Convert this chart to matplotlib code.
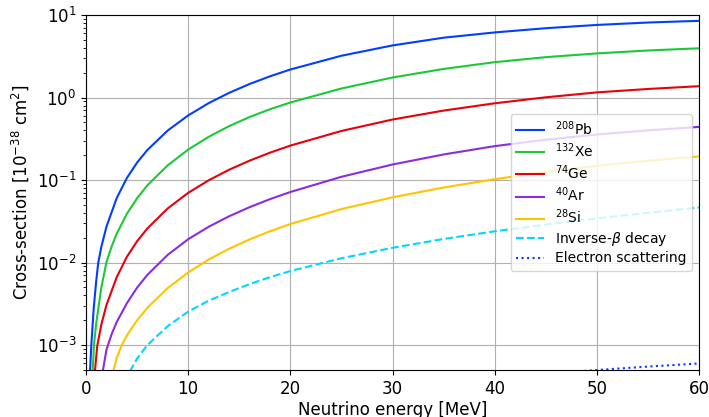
import matplotlib
matplotlib.use("Agg")
from matplotlib import pyplot as plt

# values (cross-section in 1e-38 cm^2)
pb_e = [0.36, 0.52, 0.75, 1, 1.2, 1.5, 2, 3, 4, 5, 6, 8, 10, 12, 14, 16, 18, 20, 25, 30, 35, 40, 45, 50, 55, 60]
pb_s = [4e-4, 1e-3, 2.74e-3, 6.0e-3, 0.01, 0.0155, 0.0272, 0.0603, 0.106, 0.163, 0.231, 0.399, 0.607,
        0.855, 1.139, 1.457, 1.807, 2.186, 3.21, 4.28, 5.31, 6.15, 6.92, 7.58, 8.11, 8.50]

xe_e = [0.62, 0.78, 1.0, 1.5, 1.99, 2.5, 3, 4, 5, 6, 8, 10, 12, 14, 16, 18, 20, 25, 30, 35, 40, 45, 50, 55, 60]
xe_s = [4e-4, 1e-3, 1.84e-3, 4.99e-3, 0.01, 0.0156, 0.0223, 0.039, 0.0603, 0.0862, 0.151, 0.234, 0.334,
        0.450, 0.580, 0.721, 0.871, 1.287, 1.749, 2.221, 2.684, 3.084, 3.427, 3.716, 3.95]

ge_e = [0.85, 1.1, 1.5, 2, 3, 4, 5, 6, 8, 10, 12, 14, 16, 18, 20, 25, 30, 35, 40, 45, 50, 55, 60]
ge_s = [4.5e-4, 9.8e-4, 1.77e-3, 3.06e-3, 6.64e-3, 0.01175, 0.01815, 0.0259, 0.0454, 0.07, 0.0993, 0.1333,
        0.1718, 0.2147, 0.2617, 0.3937, 0.5416, 0.6953, 0.8517, 1.0067, 1.1545, 1.27, 1.373]

ar_e = [1.6, 2, 2.5, 3, 4, 5, 6, 8, 10, 12, 14, 16, 18, 20, 25, 30, 35, 40, 45, 50, 55, 60]
ar_s = [4.5e-4, 8.8e-4, 1.35e-3, 1.9e-3, 3.22e-3, 4.97e-3, 7.09e-3, 0.01243, 0.0192, 0.02715, 0.0364, 0.0469,
        0.0587, 0.0717, 0.1096, 0.1544, 0.2044, 0.2579, 0.3085, 0.3567, 0.4007, 0.4409]

si_e = [2.6, 3, 3.5, 4, 5, 6, 8, 10, 12, 14, 16, 18, 20, 25, 30, 35, 40, 45, 50, 55, 60]
si_s = [4.5e-4, 7e-4, 1.0e-3, 1.315e-3, 2.0e-3, 2.83e-3, 4.92e-3, 7.6e-3, 0.01087, 0.01469, 0.01906, 0.02395,
        0.02935, 0.04455, 0.06186, 0.08128, 0.10257, 0.1253, 0.1486, 0.1714, 0.1933]

ibd_e = [4.3, 5, 6, 8, 10, 12, 14, 16, 18, 20, 25, 30, 35, 40, 45, 50, 55, 60]
ibd_s = [4.8e-4, 6.9e-4, 1e-3, 1.7e-3, 2.55e-3, 3.45e-3, 4.4e-3, 5.49e-3, 6.66e-3, 7.9e-3, 0.01129, 0.01511,
         0.01934, 0.02395, 0.0289, 0.03428, 0.04016, 0.0466]

es_e = [45, 50, 55, 60]
es_s = [4.5e-4, 5.0e-4, 5.5e-4, 6.0e-4]

fig = plt.figure(figsize=(7.09, 4.17), dpi=100)
ax = fig.add_subplot(111)
fig.subplots_adjust(left=0.1213, right=0.9859, top=0.964, bottom=0.1127)

ax.plot(pb_e, pb_s, color="#023eff", lw=1.5, label="$^{208}$Pb")
ax.plot(xe_e, xe_s, color="#1ac938", lw=1.5, label="$^{132}$Xe")
ax.plot(ge_e, ge_s, color="#e8000b", lw=1.5, label="$^{74}$Ge")
ax.plot(ar_e, ar_s, color="#8b2be2", lw=1.5, label="$^{40}$Ar")
ax.plot(si_e, si_s, color="#ffc400", lw=1.5, label="$^{28}$Si")
ax.plot(ibd_e, ibd_s, color="#00d7ff", lw=1.5, ls="--", label=r"Inverse-$\beta$ decay")
ax.plot(es_e, es_s, color="#023eff", lw=1.5, ls=":", label="Electron scattering")

ax.set_yscale("log")
ax.set_xlim(0, 60)
ax.set_ylim(5e-4, 10)
ax.grid(True, which="major", color="#b0b0b0", lw=0.8)
ax.tick_params(labelsize=12)
ax.set_xlabel("Neutrino energy [MeV]", fontsize=12, labelpad=2)
ax.set_ylabel("Cross-section [$10^{-38}$ cm$^2$]", fontsize=12)
ax.legend(loc="center right", fontsize=10, labelspacing=0.25)

plt.savefig("out.png", dpi=100)
